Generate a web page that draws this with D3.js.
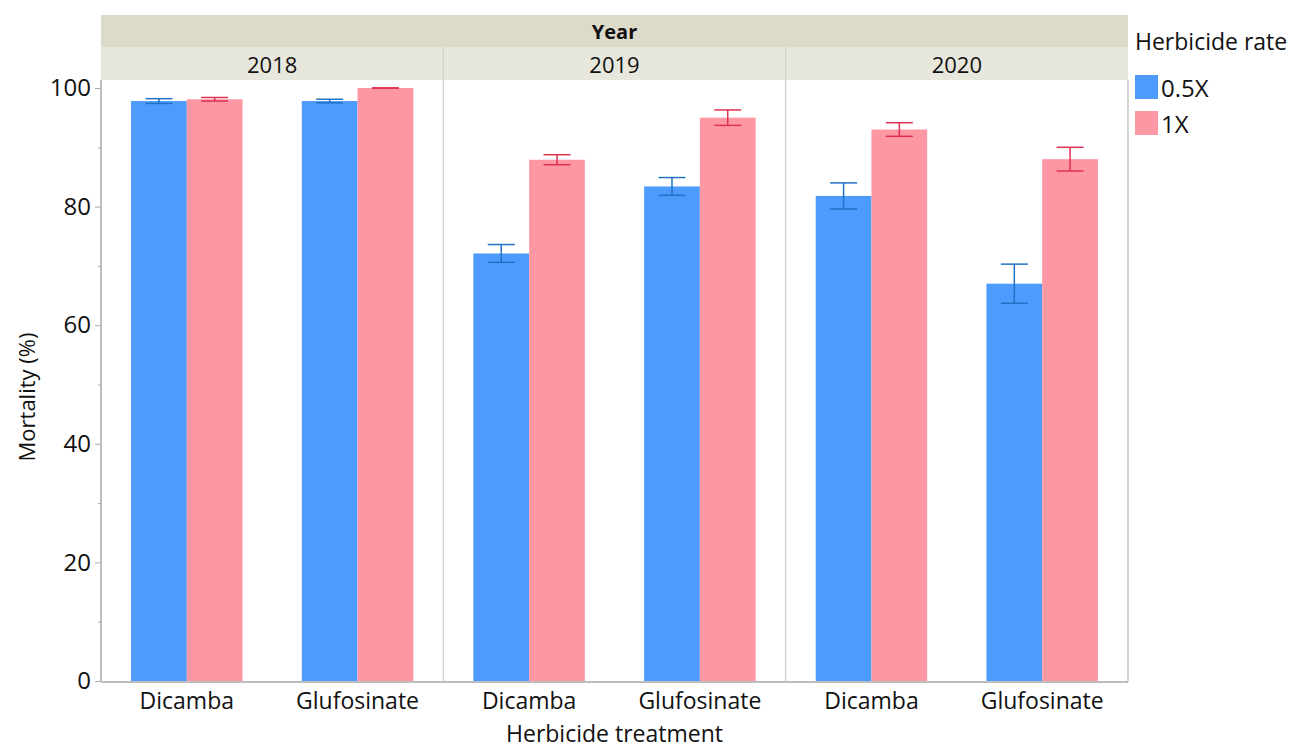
<!DOCTYPE html>
<html><head><meta charset="utf-8">
<script src="https://cdn.jsdelivr.net/npm/d3@7"></script>
<style>body{margin:0;background:#fff;} text{font-family:"Open Sans","Noto Sans",sans-serif;}</style>
</head><body>
<svg id="chart" width="1298" height="749"></svg>
<script>
const years = ["2018", "2019", "2020"];
const treatments = ["Dicamba", "Glufosinate"];
const rates = ["0.5X", "1X"];
// mortality means [year][treatment][rate]
const mean05 = [[97.8, 97.8], [72.1, 83.4], [81.8, 67.0]];
const mean1 = [[98.1, 100.0], [87.9, 95.0], [93.0, 88.0]];
// standard errors
const se05 = [[0.4, 0.3], [1.5, 1.5], [2.2, 3.3]];
const se1 = [[0.3, 0.0], [0.85, 1.3], [1.15, 2.0]];
const yTicks = [0, 20, 40, 60, 80, 100];
const yMinor = [10, 30, 50, 70, 90];

const fills = {"0.5X": "#4d9cfd", "1X": "#fe97a4"};
const errCol = {"0.5X": "#2171c4", "1X": "#e03050"};

const svg = d3.select("#chart");
const L = 101, R = 1128, T = 80, B = 682;
const headTop = 15, headMid = 47;

const panel = d3.scaleBand().domain(years).range([L, R]).padding(0);
const x = d3.scaleBand().domain(treatments).range([0, panel.bandwidth()]).paddingInner(0.347).paddingOuter(0.176);
const xr = d3.scaleBand().domain(rates).range([0, x.bandwidth()]).padding(0);
const y = d3.scaleLinear().domain([0, 100]).range([681, 88]);

// header bands
svg.append("rect").attr("x", L).attr("y", headTop).attr("width", R - L).attr("height", headMid - headTop).attr("fill", "#dcdac9");
svg.append("text").attr("x", (L + R) / 2).attr("y", 39).attr("text-anchor", "middle").attr("font-size", 20).attr("font-weight", "bold").attr("fill", "#111").text("Year");

years.forEach((yr, i) => {
  const x0 = panel(yr);
  svg.append("rect").attr("x", x0).attr("y", headMid).attr("width", panel.bandwidth()).attr("height", T - headMid).attr("fill", "#e8e7dd");
  svg.append("text").attr("x", x0 + panel.bandwidth() / 2).attr("y", 73).attr("text-anchor", "middle").attr("font-size", 22).attr("fill", "#111").text(yr);
  if (i > 0) {
    svg.append("line").attr("x1", x0).attr("x2", x0).attr("y1", headMid).attr("y2", B).attr("stroke", "#d4d4d4").attr("stroke-width", 1.5);
  }
  const g = svg.append("g").attr("transform", `translate(${x0},0)`);
  treatments.forEach((tr, j) => {
    const data = [
      {rate: "0.5X", m: mean05[i][j], s: se05[i][j]},
      {rate: "1X", m: mean1[i][j], s: se1[i][j]}
    ];
    data.forEach(d => {
      const bx = x(tr) + xr(d.rate);
      g.append("rect").attr("x", bx).attr("y", y(d.m)).attr("width", xr.bandwidth()).attr("height", y(0) - y(d.m)).attr("fill", fills[d.rate]);
      const cx = bx + xr.bandwidth() / 2;
      const hw = 13.5;
      const eg = g.append("g").attr("stroke", errCol[d.rate]).attr("stroke-width", 1.5);
      eg.append("line").attr("x1", cx).attr("x2", cx).attr("y1", y(d.m + d.s)).attr("y2", y(d.m - d.s));
      eg.append("line").attr("x1", cx - hw).attr("x2", cx + hw).attr("y1", y(d.m + d.s)).attr("y2", y(d.m + d.s));
      eg.append("line").attr("x1", cx - hw).attr("x2", cx + hw).attr("y1", y(d.m - d.s)).attr("y2", y(d.m - d.s));
    });
    svg.append("text").attr("x", x0 + x(tr) + x.bandwidth() / 2).attr("y", 709).attr("text-anchor", "middle").attr("font-size", 23).attr("fill", "#111").text(tr);
  });
});

// frame
svg.append("line").attr("x1", R).attr("x2", R).attr("y1", T).attr("y2", B).attr("stroke", "#c8c8c8").attr("stroke-width", 1.5);
svg.append("line").attr("x1", L).attr("x2", R).attr("y1", B).attr("y2", B).attr("stroke", "#bdbdbd").attr("stroke-width", 2);

// y axis
const yAxis = d3.axisLeft(y).tickValues(yTicks).tickSize(6).tickPadding(4);
const ag = svg.append("g").attr("transform", `translate(${L},0)`).call(yAxis);
ag.select(".domain").attr("stroke", "#bdbdbd").attr("stroke-width", 2).attr("d", `M0,${T}V${B}`);
ag.selectAll(".tick line").attr("stroke", "#aaa");
ag.selectAll(".tick text").attr("font-size", 24).attr("fill", "#111").attr("font-family", "'Open Sans','Noto Sans',sans-serif");
const minorAxis = d3.axisLeft(y).tickValues(yMinor).tickSize(3).tickFormat("");
const mg = svg.append("g").attr("transform", `translate(${L},0)`).call(minorAxis);
mg.select(".domain").remove();
mg.selectAll(".tick line").attr("stroke", "#aaa");

svg.append("text").attr("transform", `translate(35,${(T + B) / 2 + 16}) rotate(-90)`).attr("text-anchor", "middle").attr("font-size", 22).attr("fill", "#111").text("Mortality (%)");
svg.append("text").attr("x", (L + R) / 2).attr("y", 742).attr("text-anchor", "middle").attr("font-size", 23).attr("fill", "#111").text("Herbicide treatment");

// legend
const lg = svg.append("g");
lg.append("text").attr("x", 1135).attr("y", 50).attr("font-size", 23).attr("fill", "#111").text("Herbicide rate");
rates.forEach((r, k) => {
  const yy = 75 + k * 36;
  lg.append("rect").attr("x", 1135).attr("y", yy).attr("width", 23).attr("height", 24).attr("fill", fills[r]);
  lg.append("text").attr("x", 1161).attr("y", yy + 22).attr("font-size", 24).attr("fill", "#111").text(r);
});
</script>
</body></html>
